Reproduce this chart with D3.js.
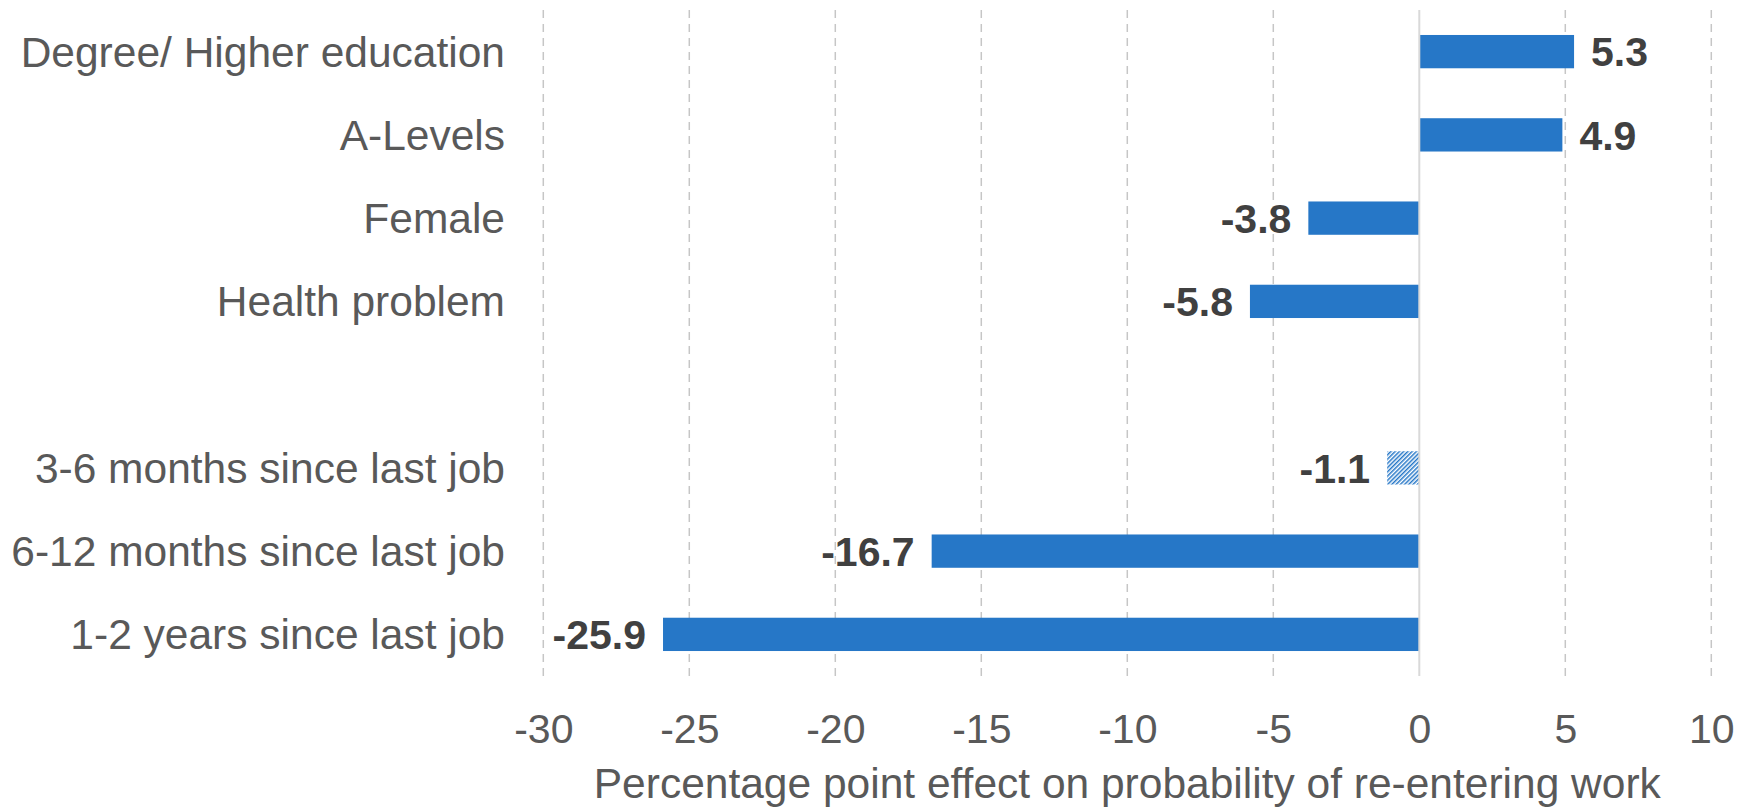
<!DOCTYPE html>
<html>
<head>
<meta charset="utf-8">
<script src="https://cdn.jsdelivr.net/npm/d3@7/dist/d3.min.js"></script>
<style>
  html, body { margin: 0; padding: 0; background: #ffffff; }
  svg { display: block; font-family: "Liberation Sans", Arial, sans-serif; }
</style>
</head>
<body>
<svg id="chart" width="1751" height="809"></svg>
<script>
// Category rows, top to bottom ("" is a spacer row between the two groups)
const categories = [
  "Degree/ Higher education",
  "A-Levels",
  "Female",
  "Health problem",
  "",
  "3-6 months since last job",
  "6-12 months since last job",
  "1-2 years since last job"
];
// Percentage point effects (null for the spacer row)
const effects = [5.3, 4.9, -3.8, -5.8, null, -1.1, -16.7, -25.9];
// Whether the estimate is statistically significant (hatched when not)
const significant = [true, true, true, true, null, false, true, true];
const xTicks = [-30, -25, -20, -15, -10, -5, 0, 5, 10];
const xTitle = "Percentage point effect on probability of re-entering work";

const svg = d3.select("#chart");
const plot = { left: 543.3, right: 1711.3, top: 10, bottom: 676 };

const x = d3.scaleLinear().domain([-30, 10]).range([plot.left, plot.right]);
const y = d3.scaleBand().domain(d3.range(categories.length))
  .range([plot.top, plot.bottom]).paddingInner(0.6).paddingOuter(0.3);

const barColor = "#2677c7";
const textGray = "#595959";
const valueColor = "#404040";
const labelSize = 42.5;
const tickSize = 41;
const valueSize = 41;

// Plain hyphen for negative numbers
const fmtTick = d => String(d);
const fmtValue = d => d.toFixed(1);

// Diagonal hatch for the non-significant estimate
const defs = svg.append("defs");
const pat = defs.append("pattern")
  .attr("id", "hatch")
  .attr("patternUnits", "userSpaceOnUse")
  .attr("width", 3).attr("height", 3)
  .attr("patternTransform", "rotate(45)");
pat.append("rect").attr("width", 3).attr("height", 3).attr("fill", "#ffffff");
pat.append("rect").attr("x", 0).attr("y", 0).attr("width", 1.5).attr("height", 3).attr("fill", barColor);

// Vertical gridlines
svg.append("g").selectAll("line")
  .data(xTicks.filter(t => t !== 0))
  .join("line")
  .attr("x1", d => x(d)).attr("x2", d => x(d))
  .attr("y1", plot.top).attr("y2", plot.bottom)
  .attr("stroke", "#c6c6c6")
  .attr("stroke-width", 1.5)
  .attr("stroke-dasharray", "8,6");

// Bars
const rows = categories.map((c, i) => ({ c, v: effects[i], sig: significant[i], i }))
  .filter(d => d.v !== null);

svg.append("g").selectAll("rect")
  .data(rows)
  .join("rect")
  .attr("x", d => x(Math.min(0, d.v)))
  .attr("y", d => y(d.i))
  .attr("width", d => Math.abs(x(d.v) - x(0)))
  .attr("height", y.bandwidth())
  .attr("fill", d => d.sig ? barColor : "url(#hatch)");

// Zero line
svg.append("line")
  .attr("x1", x(0)).attr("x2", x(0))
  .attr("y1", plot.top).attr("y2", plot.bottom)
  .attr("stroke", "#d9d9d9")
  .attr("stroke-width", 2);

// Value labels
svg.append("g").selectAll("text")
  .data(rows)
  .join("text")
  .attr("x", d => d.v >= 0 ? x(d.v) + 17 : x(d.v) - 17)
  .attr("y", d => y(d.i) + y.bandwidth() / 2 + 14.7)
  .attr("text-anchor", d => d.v >= 0 ? "start" : "end")
  .attr("font-size", valueSize)
  .attr("font-weight", "bold")
  .attr("fill", valueColor)
  .text(d => fmtValue(d.v));

// Category labels
svg.append("g").selectAll("text")
  .data(categories.map((c, i) => ({ c, i })).filter(d => d.c))
  .join("text")
  .attr("x", 505)
  .attr("y", d => y(d.i) + y.bandwidth() / 2 + 15)
  .attr("text-anchor", "end")
  .attr("font-size", labelSize)
  .attr("fill", textGray)
  .text(d => d.c);

// X axis tick labels
const xAxis = d3.axisBottom(x).tickValues(xTicks).tickSize(0).tickPadding(0)
  .tickFormat(fmtTick);
const gx = svg.append("g")
  .attr("transform", `translate(0,${plot.bottom})`)
  .call(xAxis);
gx.select(".domain").remove();
gx.selectAll("text")
  .attr("dy", null)
  .attr("y", 67)
  .attr("font-size", tickSize)
  .attr("font-family", "Liberation Sans, Arial, sans-serif")
  .attr("fill", textGray);

// Axis title
svg.append("text")
  .attr("x", (plot.left + plot.right) / 2)
  .attr("y", 798)
  .attr("text-anchor", "middle")
  .attr("font-size", labelSize)
  .attr("fill", textGray)
  .text(xTitle);
</script>
</body>
</html>
